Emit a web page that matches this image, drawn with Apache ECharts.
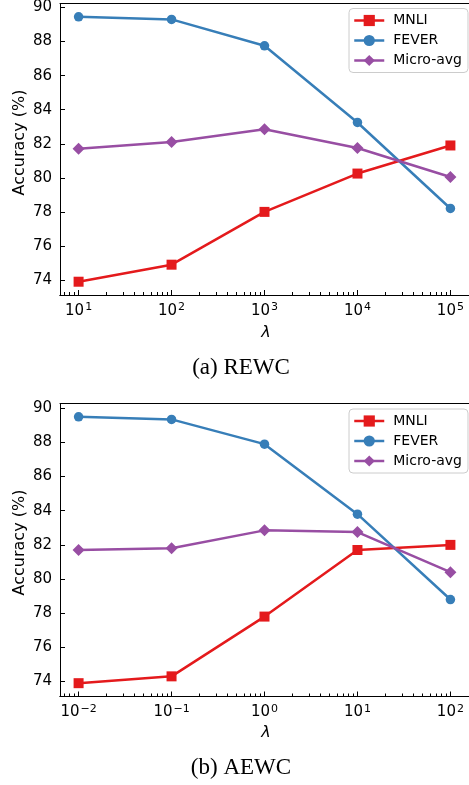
<!DOCTYPE html>
<html>
<head>
<meta charset="utf-8">
<script src="https://cdn.jsdelivr.net/npm/echarts@6/dist/echarts.min.js"></script>
<style>
  html, body { margin: 0; padding: 0; background: #fff; }
  #chart { width: 469px; height: 785px; }
</style>
</head>
<body>
<div id="chart"></div>
<script>
  // (a) REWC
  const lambdaA = [1e1, 1e2, 1e3, 1e4, 1e5]
  const mnliA = [73.9, 74.9, 78.0, 80.25, 81.9]
  const feverA = [89.45, 89.3, 87.75, 83.25, 78.2]
  const microA = [81.7, 82.1, 82.85, 81.75, 80.05]

  // (b) AEWC
  const lambdaB = [1e-2, 1e-1, 1e0, 1e1, 1e2]
  const mnliB = [73.9, 74.3, 77.8, 81.7, 82.0]
  const feverB = [89.5, 89.35, 87.9, 83.8, 78.8]
  const microB = [81.7, 81.8, 82.85, 82.75, 80.4]

  const yTicks = [74, 76, 78, 80, 82, 84, 86, 88, 90]
  const expTicksA = [1, 2, 3, 4, 5]
  const expTicksB = [-2, -1, 0, 1, 2]

  const colors = { MNLI: '#e41a1c', FEVER: '#377eb8', 'Micro-avg': '#984ea3' }
  const symbols = { MNLI: ['rect', 10], FEVER: ['circle', 9.5], 'Micro-avg': ['diamond', 12] }

  function minorTicks(lo, hi) {
    let out = []
    for (let e = Math.floor(lo) - 1; e <= Math.ceil(hi); e++) {
      for (let k = 2; k <= 9; k++) {
        let v = e + Math.log10(k)
        if (v > lo && v < hi) out.push(v)
      }
    }
    return out
  }

  function supLabel(v) {
    let e = Math.round(v)
    return '{b|10}{s|' + (e < 0 ? '\u2212' + (-e) : e) + '}'
  }

  function xAxes(gridIndex, lo, hi, ticks) {
    return [
      {
        type: 'value', gridIndex: gridIndex, min: lo, max: hi, position: 'bottom',
        axisLine: { show: true, onZero: false, lineStyle: { color: '#000', width: 1 } },
        axisTick: { show: true, inside: true, length: 5, customValues: ticks, lineStyle: { color: '#000' } },
        axisLabel: {
          customValues: ticks, margin: 7, formatter: supLabel,
          rich: {
            b: { fontFamily: 'DejaVu Sans', fontSize: 15, color: '#000' },
            s: { fontFamily: 'DejaVu Sans', fontSize: 11, color: '#000', padding: [0, 0, 7, 1] }
          }
        },
        splitLine: { show: false }
      },
      {
        type: 'value', gridIndex: gridIndex, min: lo, max: hi, position: 'bottom',
        axisLine: { show: true, onZero: false, lineStyle: { color: '#000', width: 1 } },
        axisTick: { show: true, inside: true, length: 3, customValues: minorTicks(lo, hi), lineStyle: { color: '#000' } },
        axisLabel: { show: false },
        splitLine: { show: false }
      },
      {
        type: 'value', gridIndex: gridIndex, min: lo, max: hi, position: 'top',
        axisLine: { show: true, onZero: false, lineStyle: { color: '#000', width: 1 } },
        axisTick: { show: false },
        axisLabel: { show: false },
        splitLine: { show: false }
      }
    ]
  }

  function yAxis(gridIndex, lo, hi) {
    return {
      type: 'value', gridIndex: gridIndex, min: lo, max: hi,
      axisLine: { show: true, onZero: false, lineStyle: { color: '#000', width: 1 } },
      axisTick: { show: true, inside: true, length: 5, customValues: yTicks, lineStyle: { color: '#000' } },
      axisLabel: { customValues: yTicks, margin: 8, fontFamily: 'DejaVu Sans', fontSize: 15, color: '#000' },
      splitLine: { show: false }
    }
  }

  function line(name, xIndex, yIndex, lambdas, values) {
    return {
      name: name, type: 'line', xAxisIndex: xIndex, yAxisIndex: yIndex,
      data: lambdas.map((l, i) => [Math.log10(l), values[i]]),
      symbol: symbols[name][0], symbolSize: symbols[name][1],
      color: colors[name],
      lineStyle: { width: 2.5 },
      itemStyle: { color: colors[name] },
      emphasis: { disabled: true },
      animation: false,
      z: name == 'MNLI' ? 3 : (name == 'FEVER' ? 4 : 5)
    }
  }

  function legend(top) {
    return {
      orient: 'vertical', left: 349, top: top,
      data: ['MNLI', 'FEVER', 'Micro-avg'],
      itemWidth: 30, itemHeight: 14, itemGap: 6,
      padding: [5, 6, 5, 4],
      backgroundColor: 'rgba(255,255,255,0.85)',
      borderColor: '#cccccc', borderWidth: 1, borderRadius: 4,
      selectedMode: false,
      lineStyle: { width: 2.5 },
      textStyle: { fontFamily: 'DejaVu Sans', fontSize: 14, color: '#000', padding: [0, 0, 0, 4] }
    }
  }

  function text(x, y, str, font, size, extra) {
    return Object.assign({
      type: 'text', x: x, y: y, silent: true,
      style: { text: str, fontFamily: font, fontSize: size, fill: '#000', align: 'center', verticalAlign: 'middle' }
    }, extra || {})
  }

  const option = {
    animation: false,
    grid: [
      { left: 60, top: 3, width: 413, height: 292 },
      { left: 60, top: 403.5, width: 413, height: 293 }
    ],
    xAxis: xAxes(0, 0.8, 5.2, expTicksA).concat(xAxes(1, -2.2, 2.2, expTicksB)),
    yAxis: [yAxis(0, 73.12, 90.23), yAxis(1, 73.12, 90.28)],
    legend: [legend(8.5), legend(409)],
    series: [
      line('MNLI', 0, 0, lambdaA, mnliA),
      line('FEVER', 0, 0, lambdaA, feverA),
      line('Micro-avg', 0, 0, lambdaA, microA),
      line('MNLI', 3, 1, lambdaB, mnliB),
      line('FEVER', 3, 1, lambdaB, feverB),
      line('Micro-avg', 3, 1, lambdaB, microB)
    ],
    graphic: [
      text(19.5, 142.5, 'Accuracy (%)', 'DejaVu Sans', 16, { rotation: Math.PI / 2 }),
      text(19.5, 542.5, 'Accuracy (%)', 'DejaVu Sans', 16, { rotation: Math.PI / 2 }),
      text(266, 333, 'λ', 'DejaVu Sans', 16, {}),
      text(266, 733, 'λ', 'DejaVu Sans', 16, {}),
      text(241, 368, '(a) REWC', 'Liberation Serif', 23, {}),
      text(241, 768, '(b) AEWC', 'Liberation Serif', 23, {})
    ]
  }
  // italic lambda
  option.graphic[2].style.fontStyle = 'italic'
  option.graphic[3].style.fontStyle = 'italic'

  const chart = echarts.init(document.getElementById('chart'), null, { renderer: 'canvas' })
  chart.setOption(option)
</script>
</body>
</html>
